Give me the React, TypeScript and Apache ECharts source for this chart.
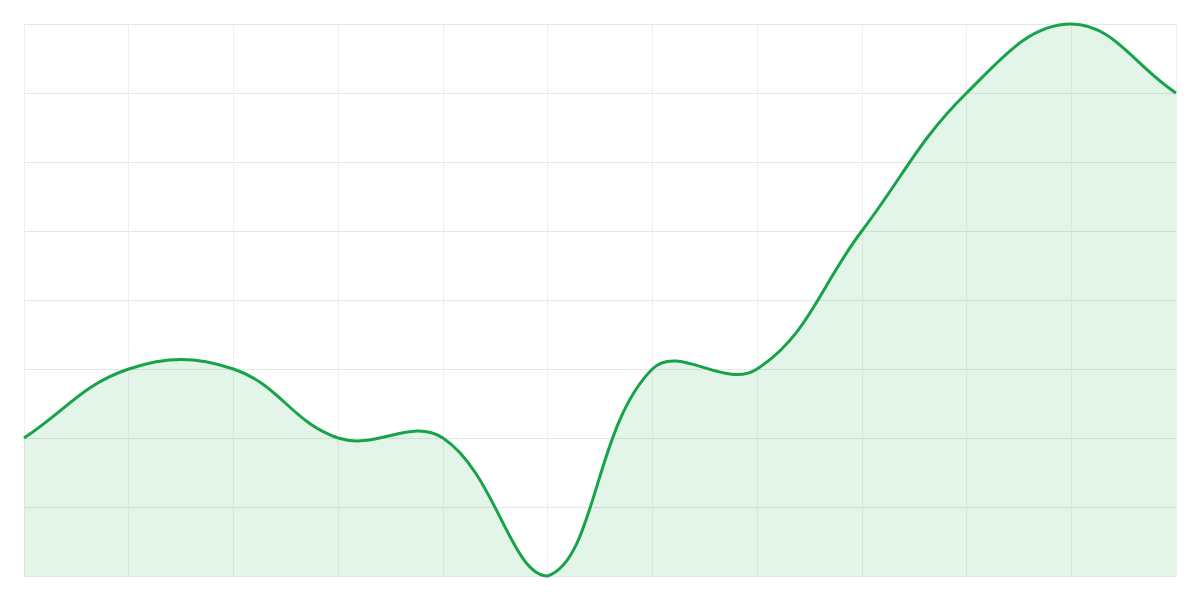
import React, { useEffect, useRef } from 'react';
import * as echarts from 'echarts';

const categories = ['1', '2', '3', '4', '5', '6', '7', '8', '9', '10', '11', '12'];
const values = [2, 3, 3, 2, 2, 0, 3, 3, 5, 7, 8, 7];

const TENSION = 0.4;

// tension 0.4 cubic spline, control points kept inside the grid
function buildPaths(pts: number[][], box: { x: number; y: number; width: number; height: number }) {
  const clampX = (v: number) => Math.min(Math.max(v, box.x), box.x + box.width);
  const clampY = (v: number) => Math.min(Math.max(v, box.y), box.y + box.height);
  const cps = pts.map((cur, i) => {
    const prev = pts[Math.max(i - 1, 0)];
    const next = pts[Math.min(i + 1, pts.length - 1)];
    const d01 = Math.hypot(cur[0] - prev[0], cur[1] - prev[1]);
    const d12 = Math.hypot(next[0] - cur[0], next[1] - cur[1]);
    let s01 = d01 / (d01 + d12);
    let s12 = d12 / (d01 + d12);
    if (isNaN(s01)) s01 = 0;
    if (isNaN(s12)) s12 = 0;
    const fa = TENSION * s01;
    const fb = TENSION * s12;
    return {
      before: [clampX(cur[0] - fa * (next[0] - prev[0])), clampY(cur[1] - fa * (next[1] - prev[1]))],
      after: [clampX(cur[0] + fb * (next[0] - prev[0])), clampY(cur[1] + fb * (next[1] - prev[1]))]
    };
  });
  let d = `M${pts[0][0]},${pts[0][1]}`;
  for (let i = 1; i < pts.length; i++) {
    const a = cps[i - 1].after;
    const b = cps[i].before;
    d += ` C${a[0]},${a[1]} ${b[0]},${b[1]} ${pts[i][0]},${pts[i][1]}`;
  }
  const base = box.y + box.height;
  const area = `${d} L${pts[pts.length - 1][0]},${base} L${pts[0][0]},${base} Z`;
  return { line: d, area };
}

const App: React.FC = () => {
  const chartRef = useRef<HTMLDivElement>(null);

  useEffect(() => {
    if (!chartRef.current) return;
    const chart = echarts.init(chartRef.current, null, { renderer: 'svg' });
    chart.setOption({
      animation: false,
      backgroundColor: '#ffffff',
      grid: { left: 24, right: 24, top: 24, bottom: 24 },
      xAxis: {
        type: 'category',
        data: categories,
        boundaryGap: false,
        axisLine: { show: false },
        axisTick: { show: false },
        axisLabel: { show: false },
        splitLine: { show: true, lineStyle: { color: '#f0f0f0', width: 1 } }
      },
      yAxis: {
        type: 'value',
        min: 0,
        max: 8,
        interval: 1,
        axisLine: { show: false },
        axisTick: { show: false },
        axisLabel: { show: false },
        splitLine: { show: true, lineStyle: { color: '#e6e6e6', width: 1 } }
      },
      series: [
        {
          type: 'custom',
          silent: true,
          clip: false,
          data: values.map((v, i) => [i, v]),
          encode: { x: 0, y: 1 },
          renderItem: (params: any, api: any) => {
            if (params.dataIndex !== 0) return null;
            const pts = values.map((v, i) => api.coord([i, v]));
            const box = params.coordSys;
            const paths = buildPaths(pts, box);
            return {
              type: 'group',
              children: [
                {
                  type: 'path',
                  shape: { pathData: paths.area },
                  style: { fill: 'rgba(22,163,74,0.12)', stroke: 'none' }
                },
                {
                  type: 'path',
                  shape: { pathData: paths.line },
                  style: { fill: 'none', stroke: '#16a34a', lineWidth: 3, lineJoin: 'round' }
                }
              ]
            };
          }
        }
      ]
    });
    return () => {
      chart.dispose();
    };
  }, []);

  return (
    <div
      ref={chartRef}
      style={{ position: 'fixed', left: 0, top: 0, width: '1200px', height: '600px' }}
    />
  );
};

export default App;
